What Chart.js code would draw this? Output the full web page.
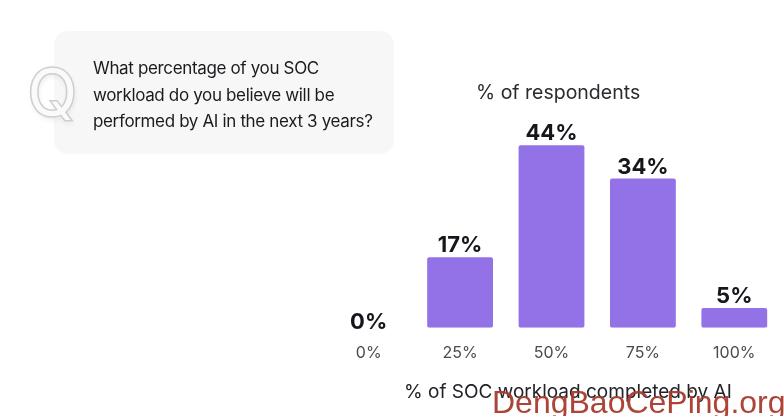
<!DOCTYPE html>
<html><head><meta charset="utf-8">
<script src="https://cdn.jsdelivr.net/npm/chart.js@4"></script>
<style>
html,body{margin:0;padding:0;background:#fff;width:784px;height:416px;overflow:hidden;font-family:Inter,sans-serif}
#c{position:absolute;left:0;top:0}
.t{position:absolute;white-space:nowrap}
#card{position:absolute;left:54px;top:31px;width:340px;height:123px;background:#f7f7f7;border-radius:14px}
#q{left:27px;top:52px;font:500 66px/80px Inter,sans-serif;color:#fafafa;-webkit-text-stroke:1.5px #cfcfcf;text-shadow:1px 3px 5px rgba(0,0,0,.07)}
#question{left:93px;top:55px;font:400 17px/26.5px Inter,sans-serif;color:#1a1b1f;letter-spacing:-.35px}
#ytitle{left:476px;top:79px;font:400 19.5px/26px Inter,sans-serif;color:#2a2b30}
#xtitle{left:404px;top:379px;font:400 19px/26px Inter,sans-serif;color:#222328}
#mark{left:492px;top:384px;font:400 32px/36px "Liberation Sans",sans-serif;color:#a93a2d;opacity:.95}
</style></head><body>
<div id="card"></div>
<canvas id="c" width="784" height="416"></canvas>
<div class="t" id="q">Q</div>
<div class="t" id="question">What percentage of you SOC<br>workload do you believe will be<br>performed by AI in the next 3 years?</div>
<div class="t" id="ytitle">% of respondents</div>
<div class="t" id="xtitle">% of SOC workload completed by AI</div>
<div class="t" id="mark">DengBaoCePing.org</div>
<script>
const categories = ['0%','25%','50%','75%','100%'];
// Printed labels
const valueLabels = ['0%','17%','44%','34%','5%'];
// Bar heights as drawn in the picture (the 34% bar is drawn slightly taller than its label)
const barValues = [0,17,44,36,4.8];

const barLabelPlugin = {
  id:'barLabels',
  afterDatasetsDraw(chart){
    const {ctx}=chart, meta=chart.getDatasetMeta(0);
    ctx.save();
    ctx.font='700 22px Inter, sans-serif';
    ctx.fillStyle='#16171c';
    ctx.textAlign='center';
    ctx.textBaseline='alphabetic';
    meta.data.forEach((b,i)=>ctx.fillText(valueLabels[i],b.x,b.y+(barValues[i]===0?1:-5)));
    ctx.restore();
  }
};
new Chart(document.getElementById('c'),{
  type:'bar',
  data:{labels:categories,datasets:[{data:barValues,backgroundColor:'#9372e8',borderRadius:2,borderSkipped:false,barPercentage:.72,categoryPercentage:1}]},
  options:{
    responsive:false,animation:false,
    layout:{padding:{left:323,right:4,top:79,bottom:45}},
    plugins:{legend:{display:false},tooltip:{enabled:false}},
    scales:{
      x:{grid:{display:false},border:{display:false},ticks:{color:'#4a4b50',font:{family:'Inter, sans-serif',size:16},padding:8,maxRotation:0}},
      y:{display:false,min:0,max:60}
    }
  },
  plugins:[barLabelPlugin]
});
</script>
</body></html>
